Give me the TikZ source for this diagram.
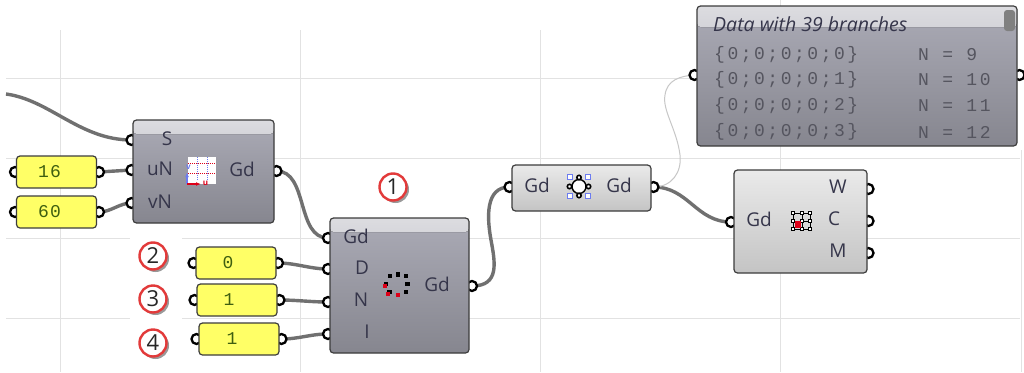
\documentclass[tikz,border=0pt]{standalone}
\usepackage{fontspec}
\setmainfont{Open Sans}
\newfontfamily\monof[LetterSpace=14]{Liberation Mono}
\newfontfamily\monop[LetterSpace=7]{Liberation Mono}
\usetikzlibrary{shadows,arrows.meta}
\pgfdeclarelayer{gridlayer}
\pgfdeclarelayer{wirelayer}
\pgfsetlayers{gridlayer,wirelayer,main}
\definecolor{gridc}{HTML}{E2E2E2}
\definecolor{wirec}{HTML}{707070}
\definecolor{edgec}{HTML}{3C3C3C}
\definecolor{labelc}{HTML}{35354A}
\definecolor{panelc}{HTML}{FFFF66}
\definecolor{digitc}{HTML}{3F5F10}
\definecolor{monoc}{HTML}{55555F}
\definecolor{darktop}{HTML}{ABABB6}
\definecolor{darkbot}{HTML}{86868F}
\definecolor{glosstop}{HTML}{DCDCE0}
\definecolor{glossbot}{HTML}{ABABB6}
\definecolor{lighttop}{HTML}{EAEAEA}
\definecolor{lightbot}{HTML}{C4C4C4}
\definecolor{iconred}{HTML}{DD0018}
\definecolor{iconblue}{HTML}{6C7CF0}
\definecolor{ringc}{HTML}{E23A3A}
\tikzset{
  gridline/.style={gridc,line width=0.9pt},
  wire/.style={wirec,line width=3.4pt},
  thinwire/.style={draw=black!22,line width=1pt},
  port/.style={circle,draw=black,fill=white,line width=2.3pt,minimum size=10pt,inner sep=0pt},
  compdark/.style={draw=edgec,line width=1.2pt,rounded corners=3.5pt,inner sep=0pt,
    top color=darktop,bottom color=darkbot,
    path picture={\fill[top color=glosstop,bottom color=glossbot]
      (path picture bounding box.north west) rectangle ([yshift=-#1]path picture bounding box.north east);}},
  compdark/.default=14pt,
  complight/.style={draw=edgec,line width=1.2pt,rounded corners=3.5pt,inner sep=0pt,
    top color=lighttop,bottom color=lightbot},
  panelbox/.style={draw=edgec,line width=1.2pt,rounded corners=3.5pt,fill=panelc,inner sep=0pt,
    minimum width=80pt,minimum height=32pt,text=digitc,font=\monop\fontsize{18}{18}\selectfont},
  plabel/.style={text=labelc,font=\fontsize{19}{19}\selectfont,inner sep=0pt},
  monotext/.style={text=monoc,font=\monof\fontsize{18}{18}\selectfont,inner sep=0pt,anchor=west},
  callout/.style={circle,draw=ringc,fill=white,line width=2.4pt,minimum size=27pt,inner sep=0pt,
    font=\fontsize{22}{22}\selectfont,text=black!85,
    drop shadow={shadow xshift=2.5pt,shadow yshift=-2.5pt,opacity=.4,fill=black}},
}
\begin{document}
\begin{tikzpicture}[x=1pt,y=-1pt]
\useasboundingbox (0,0) rectangle (1024,372);
% grid
\begin{pgfonlayer}{gridlayer}
\fill[white] (0,0) rectangle (1024,372);
\foreach \gx/\gy in {60/30,300/30,540/30,780/0,1021/150}
  \draw[gridline] (\gx,\gy) -- (\gx,372);
\foreach \gy in {78,158,238,318}
  \draw[gridline] (6,\gy) -- (1020,\gy);
\fill[white] (130,228) rectangle (182,372);
\end{pgfonlayer}
% free end
\coordinate (src) at (6,94);
% ports
\node[port] (As) at (131.5,140) {};
\node[port] (Au) at (131.5,170) {};
\node[port] (Av) at (131.5,203) {};
\node[port] (Ao) at (276.5,171) {};
\node[port] (P16l) at (15,172) {};
\node[port] (P16r) at (99,172) {};
\node[port] (P60l) at (15,212) {};
\node[port] (P60r) at (99,212) {};
\node[port] (P0l) at (193.5,263) {};
\node[port] (P0r) at (278,263) {};
\node[port] (P1l) at (194.5,300) {};
\node[port] (P1r) at (279.5,300) {};
\node[port] (P2l) at (196.5,339) {};
\node[port] (P2r) at (281.5,339) {};
\node[port] (Bg) at (328,238) {};
\node[port] (Bd) at (328,269) {};
\node[port] (Bn) at (328,302) {};
\node[port] (Bi) at (328,334) {};
\node[port] (Bo) at (472,286) {};
\node[port] (Ci) at (509.5,187) {};
\node[port] (Co) at (653.5,187) {};
\node[port] (Di) at (731,222) {};
\node[port] (Dw) at (868.5,189) {};
\node[port] (Dc) at (868.5,221) {};
\node[port] (Dm) at (868.5,253) {};
\node[port] (Ei) at (694.5,75) {};
\node[port] (Eo) at (1019.5,75) {};
% boxes
\node[compdark,minimum width=141pt,minimum height=103pt] (A) at (203.5,171.5) {};
\node[compdark,minimum width=139pt,minimum height=135pt] (B) at (399.5,285.5) {};
\node[complight,minimum width=139pt,minimum height=46pt] (C) at (581.5,188) {};
\node[complight,minimum width=133pt,minimum height=103pt] (D) at (800.5,221.5) {};
\node[compdark=21pt,minimum width=320pt,minimum height=140pt] (E) at (857,76) {};
\node[panelbox] (P16) at (56.5,172) {16\kern14pt\relax};
\node[panelbox] (P60) at (56.5,212) {60\kern14pt\relax};
\node[panelbox] (P0) at (236,263) {0\kern16pt\relax};
\node[panelbox] (P1) at (237,300) {1\kern16pt\relax};
\node[panelbox] (P2) at (239,339) {1\kern14pt\relax};
% wires
\begin{pgfonlayer}{wirelayer}
\draw[wire] (src) .. controls (50,100) and (80,140) .. (As.center);
\draw[wire] (P16r.center) -- (Au.center);
\draw[wire] (P60r.center) .. controls +(12,0) and +(-12,0) .. (Av.center);
\draw[wire] (Ao.center) .. controls +(32,0) and +(-32,0) .. (Bg.center);
\draw[wire] (P0r.center) .. controls +(18,0) and +(-18,0) .. (Bd.center);
\draw[wire] (P1r.center) .. controls +(18,0) and +(-18,0) .. (Bn.center);
\draw[wire] (P2r.center) .. controls +(18,0) and +(-18,0) .. (Bi.center);
\draw[wire] (Bo.center) .. controls (500,286) and (495,262) .. (491,240) .. controls (487,218) and (485,187) .. (Ci.center);
\draw[wire] (Co.center) .. controls +(35,0) and +(-35,0) .. (Di.center);
\draw[thinwire] (Co.center) .. controls (672,187) and (682,172) .. (680,155)
  .. controls (677,130) and (662,110) .. (665,95) .. controls (667,80) and (680,76) .. (Ei.center);
\end{pgfonlayer}
% labels A
\node[plabel] (Ls) at (167,139) {S};
\node[plabel] (Lu) at (160,169) {uN};
\node[plabel] (Lv) at (160,202) {vN};
\node[plabel] (Lg) at (242,169) {Gd};
% labels B
\node[plabel] (Lbg) at (356,236) {Gd};
\node[plabel] (Lbd) at (362,268) {D};
\node[plabel] (Lbn) at (361,300) {N};
\node[plabel] (Lbi) at (367,332) {I};
\node[plabel] (Lbo) at (437,284) {Gd};
% labels C
\node[plabel] (Lci) at (537,185) {Gd};
\node[plabel] (Lco) at (619,185) {Gd};
% labels D
\node[plabel] (Ldi) at (759,219) {Gd};
\node[plabel] (Ldw) at (838,187) {W};
\node[plabel] (Ldc) at (834,219) {C};
\node[plabel] (Ldm) at (838,251) {M};
% data panel
\node[text=labelc,font=\itshape\fontsize{19.5}{19.5}\selectfont,inner sep=0pt,anchor=west] (Et) at (713,24) {Data with 39 branches};
\fill[black!50,rounded corners=3pt] (1004,10) rectangle (1015,31);
\node[monotext] (E1) at (714,55) {\{0;0;0;0;0\}};
\node[monotext] (E2) at (714,80) {\{0;0;0;0;1\}};
\node[monotext] (E3) at (714,106) {\{0;0;0;0;2\}};
\node[monotext] (E4) at (714,132) {\{0;0;0;0;3\}};
\node[monotext] (N1) at (918,55) {N = 9};
\node[monotext] (N2) at (918,80) {N = 10};
\node[monotext] (N3) at (918,106) {N = 11};
\node[monotext] (N4) at (918,132) {N = 12};
% icon A
\fill[white] (188,157) rectangle (216,184);
\draw[iconred,densely dotted,line width=1pt] (188,163) -- (216,163) (188,173) -- (216,173);
\draw[iconblue,densely dotted,line width=1pt] (197,157) -- (197,180) (207,157) -- (207,180);
\draw[iconblue,line width=1.8pt,-{Latex[length=5pt]}] (187,184) -- (187,172);
\draw[iconred,line width=2pt,-{Latex[length=5pt]}] (187,184) -- (201,184);
\node[text=iconred,font=\bfseries\fontsize{8}{8}\selectfont,inner sep=0pt] (Iu) at (205.5,183) {u};
\node[text=iconblue,font=\bfseries\fontsize{8}{8}\selectfont,inner sep=0pt] (Iv) at (188.5,167) {v};
% icon B
\foreach \dx/\dy in {389.7/275.7,397.7/274.3,405.7/275.7,407.3/284,405.7/291.7,389.3/291.7,386/284}
  \fill[black] (\dx-2.2,\dy-2.2) rectangle (\dx+2.2,\dy+2.2);
\foreach \dx/\dy in {384.7/285.7,387.7/294,397.7/295}
  \fill[iconred] (\dx-2.2,\dy-2.2) rectangle (\dx+2.2,\dy+2.2);
% icon C
\foreach \dx/\dy in {570/177,588/177,570/196,588/196}
  \draw[iconblue,fill=white,line width=1.4pt] (\dx-2.4,\dy-2.4) rectangle (\dx+2.4,\dy+2.4);
\draw[black,fill=white,line width=1.4pt] (579,186.5) circle (7);
\foreach \dx/\dy in {579/177.5,588.5/186.5,579/195.5,569.5/186.5}
  \draw[black,fill=white,line width=1.6pt] (\dx,\dy) circle (2.2);
% icon D
\draw[black,line width=1pt] (793,213) rectangle (810,229) (802,213) -- (802,229) (793,221) -- (810,221);
\foreach \dx in {793,802,810}\foreach \dy in {213,221,229}
  \draw[black,fill=white,line width=1.1pt] (\dx-1.8,\dy-1.8) rectangle (\dx+1.8,\dy+1.8);
\fill[iconred] (794.5,220.5) rectangle (801,227.5);
% callouts
\node[callout] (C1) at (393,187) {1};
\node[callout] (C2) at (153,256) {2};
\node[callout] (C3) at (153,299) {3};
\node[callout] (C4) at (153,343) {4};
\end{tikzpicture}
\end{document}
